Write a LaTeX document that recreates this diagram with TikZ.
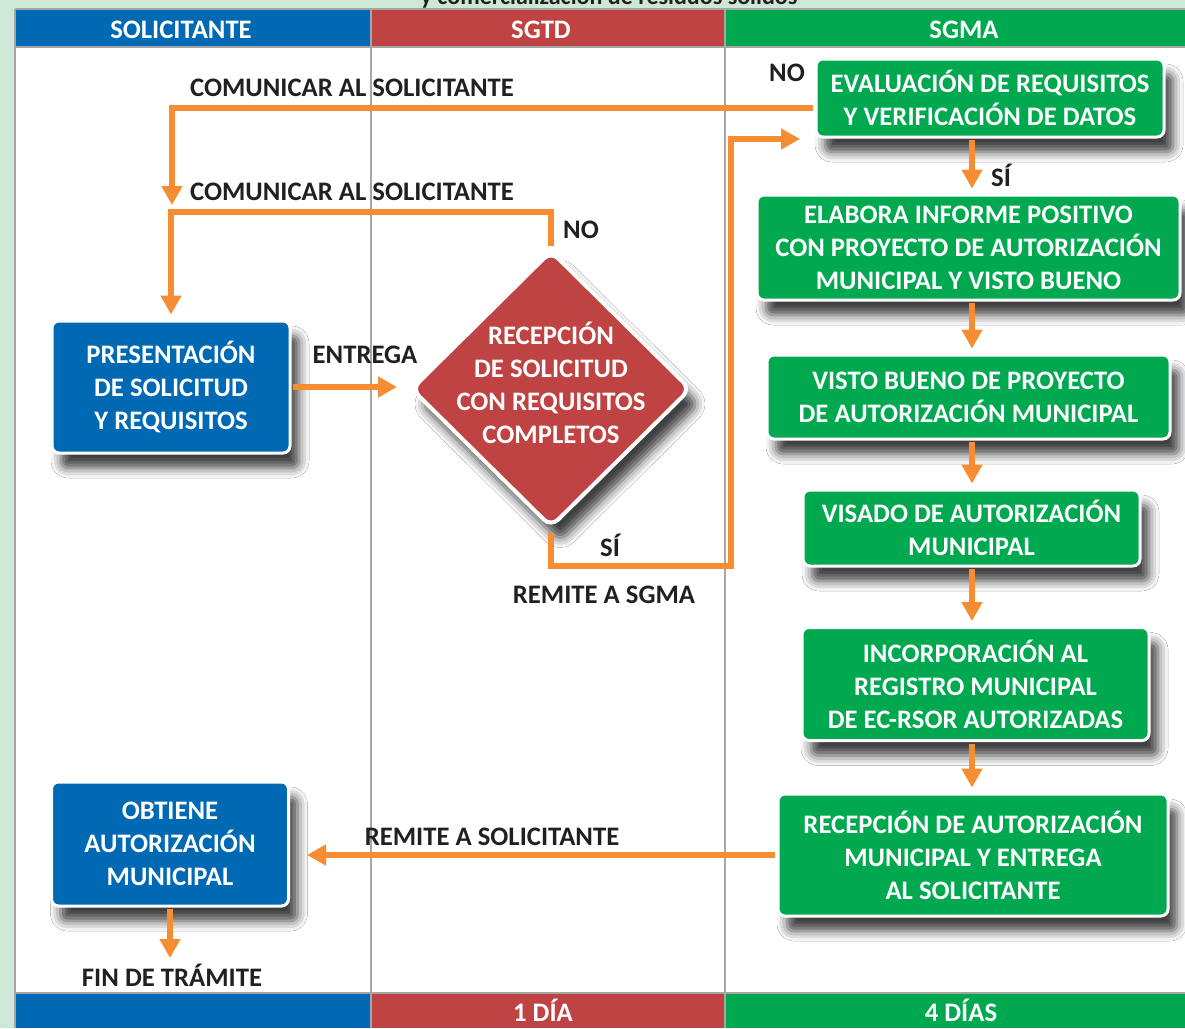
\documentclass[tikz,border=0pt]{standalone}
\usepackage{fontspec}
\setmainfont{Carlito}
\usetikzlibrary{shapes.geometric,arrows.meta,shadows.blur}
\definecolor{cblue}{HTML}{0069B4}
\definecolor{cred}{HTML}{C04343}
\definecolor{cgreen}{HTML}{00A94F}
\definecolor{corange}{HTML}{F68D33}
\definecolor{cbg}{HTML}{CDE8D6}
\definecolor{cgrid}{HTML}{A6A6A6}
\definecolor{ctext}{HTML}{231F20}
\begin{document}
\begin{tikzpicture}[x=1pt,y=-1pt,
  shd/.style={blur shadow={shadow xshift=9pt,shadow yshift=-15pt,shadow blur radius=10pt,shadow opacity=75}},
  box/.style={shd,rounded corners=7pt,draw=white,line width=3pt,text=white,
    font=\bfseries\fontsize{26.7}{33}\selectfont,align=center,inner sep=0pt},
  lab/.style={font=\bfseries\fontsize{26.7}{30}\selectfont,text=ctext,inner sep=0pt,anchor=base},
  hlab/.style={lab,text=white},
  arr/.style={draw=corange,line width=6.5pt,shorten <=1.5pt,-{Triangle[width=20pt,length=19pt]}}
]
\useasboundingbox (0,0) rectangle (1185,1028);
% lanes
\fill[cbg] (0,0) rectangle (1185,1028);
\fill[white] (15,47) rectangle (1185,993);
\fill[cblue] (15,9) rectangle (371,47);
\fill[cred] (371,9) rectangle (725,47);
\fill[cgreen] (725,9) rectangle (1185,47);
\fill[cblue] (15,993) rectangle (371,1028);
\fill[cred] (371,993) rectangle (725,1028);
\fill[cgreen] (725,993) rectangle (1185,1028);
\draw[cgrid,line width=2pt] (371,9) -- (371,1028) (725,9) -- (725,1028);
\draw[cgrid,line width=1.5pt] (15,9) -- (15,1028) (15,9) -- (1185,9)
  (15,47) -- (1185,47) (15,993) -- (1185,993);

% cut title
\begin{scope}
\clip (0,0) rectangle (1185,9);
\node[lab,font=\bfseries\fontsize{24}{28}\selectfont] (title) at (609,4) {y comercialización de residuos sólidos};
\end{scope}

% headers and footers
\node[hlab] (hsol) at (181,38) {SOLICITANTE};
\node[hlab] (hsgtd) at (541,38) {SGTD};
\node[hlab] (hsgma) at (964,38) {SGMA};
\node[hlab] (fsgtd) at (543,1021) {1 DÍA};
\node[hlab] (fsgma) at (961,1021) {4 DÍAS};

% process nodes
\node[box,fill=cblue,minimum width=238pt,minimum height=132pt] (pres) at (171,387) {PRESENTACIÓN\\DE SOLICITUD\\Y REQUISITOS};
\node[shd,diamond,fill=cred,draw=white,line width=4pt,rounded corners=10pt,
  minimum width=280pt,minimum height=277pt,inner sep=0pt,text=white,
  font=\bfseries\fontsize{26.7}{33}\selectfont] (dia) at (551,389)
  {\makebox[0pt]{\smash{\raisebox{-5pt}{\begin{tabular}{@{}c@{}}RECEPCIÓN\\DE SOLICITUD\\CON REQUISITOS\\COMPLETOS\end{tabular}}}}};
\node[box,fill=cblue,minimum width=237pt,minimum height=124pt] (obt) at (170,844) {OBTIENE\\AUTORIZACIÓN\\MUNICIPAL};
\node[box,fill=cgreen,minimum width=348pt,minimum height=78pt] (eval) at (990,98) {EVALUACIÓN DE REQUISITOS\\Y VERIFICACIÓN DE DATOS};
\node[box,fill=cgreen,minimum width=423pt,minimum height=105pt] (elab) at (968.5,247.5) {ELABORA INFORME POSITIVO\\CON PROYECTO DE AUTORIZACIÓN\\MUNICIPAL Y VISTO BUENO};
\node[box,fill=cgreen,minimum width=403pt,minimum height=84pt] (visto) at (968.5,397) {VISTO BUENO DE PROYECTO\\DE AUTORIZACIÓN MUNICIPAL};
\node[box,fill=cgreen,minimum width=337pt,minimum height=76pt] (visado) at (971.5,528) {VISADO DE AUTORIZACIÓN\\MUNICIPAL};
\node[box,fill=cgreen,minimum width=347pt,minimum height=113pt] (incorp) at (975.5,684) {INCORPORACIÓN AL\\REGISTRO MUNICIPAL\\DE EC-RSOR AUTORIZADAS};
\node[box,fill=cgreen,minimum width=390pt,minimum height=122pt] (recep) at (973,855) {RECEPCIÓN DE AUTORIZACIÓN\\MUNICIPAL Y ENTREGA\\AL SOLICITANTE};

% labels
\node[lab] (lcom1) at (352,96) {COMUNICAR AL SOLICITANTE};
\node[lab] (lcom2) at (352,200) {COMUNICAR AL SOLICITANTE};
\node[lab] (lno1) at (787,81) {NO};
\node[lab] (lno2) at (581,238) {NO};
\node[lab] (lsi1) at (610,556) {SÍ};
\node[lab] (lrem1) at (604,603) {REMITE A SGMA};
\node[lab] (lent) at (365,363) {ENTREGA};
\node[lab] (lsi2) at (1001,186) {SÍ};
\node[lab] (lrem2) at (492,845) {REMITE A SOLICITANTE};
\node[lab] (lfin) at (172,986) {FIN DE TRÁMITE};

% helper coordinates
\coordinate (c1) at (172,205);
\coordinate (y2) at (0,212);
\coordinate (k1) at (731,566);
\coordinate (k2) at (800,139);
\coordinate (colx) at (972,0);
\coordinate (yfin) at (0,958);

% connectors
\draw[arr] ([yshift=-10pt]eval.west) -| (c1);
\draw[arr,shorten <=3pt,shorten >=5pt] (dia.north) -- (dia.north |- y2) -| (pres.north);
\draw[arr,shorten <=3pt] (dia.south) |- (k1) |- (k2);
\draw[arr,shorten >=12pt] (pres.east) -- (pres.east -| dia.west);
\draw[arr,shorten >=5pt] (eval.south -| colx) -- (elab.north -| colx);
\draw[arr,shorten >=5pt] (elab.south -| colx) -- (visto.north -| colx);
\draw[arr,shorten >=5pt] (visto.south -| colx) -- (visado.north -| colx);
\draw[arr,shorten >=5pt] (visado.south -| colx) -- (incorp.north -| colx);
\draw[arr,shorten >=5pt] (incorp.south -| colx) -- (recep.north -| colx);
\draw[arr,shorten >=17pt] (recep.west) -- (recep.west -| obt.east);
\draw[arr] (obt.south) -- (obt.south |- yfin);
\end{tikzpicture}
\end{document}
